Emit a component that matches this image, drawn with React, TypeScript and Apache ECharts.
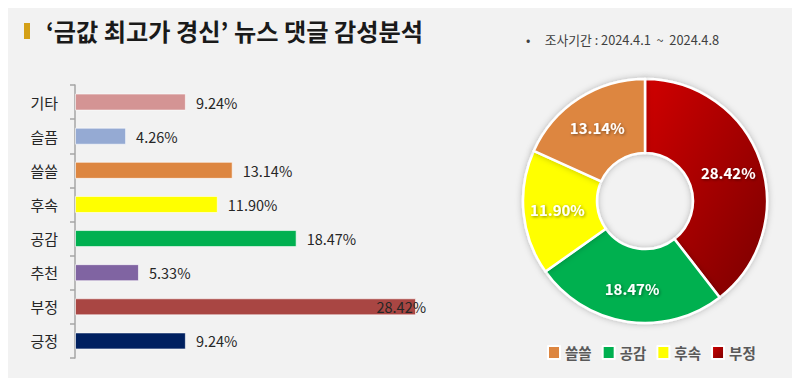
import React, { useEffect, useRef } from "react";
import * as echarts from "echarts";

const barCategories = ["기타", "슬픔", "쓸쓸", "후속", "공감", "추천", "부정", "긍정"];
const barValues = [9.24, 4.26, 13.14, 11.9, 18.47, 5.33, 28.42, 9.24];
const barColors = ["#d49494", "#95aad3", "#dd8640", "#ffff00", "#00b050", "#8064a2", "#a94643", "#002060"];

const pieNames = ["부정", "공감", "후속", "쓸쓸"];
const pieValues = [28.42, 18.47, 11.9, 13.14];
const legendOrder = ["쓸쓸", "공감", "후속", "부정"];

const FONT = "'Noto Sans CJK KR', 'Noto Sans', sans-serif";

export default function App() {
  const ref = useRef<HTMLDivElement>(null);
  useEffect(() => {
    if (!ref.current) return;
    const chart = echarts.init(ref.current, null, { renderer: "svg" });
    const pieColors: any[] = [
      new echarts.graphic.LinearGradient(0, 0, 1, 1, [
        { offset: 0, color: "#d00000" },
        { offset: 1, color: "#7a0000" },
      ]),
      "#00b050",
      "#ffff00",
      "#dd8640",
    ];
    chart.setOption({
      animation: false,
      backgroundColor: "#f2f2f2",
      textStyle: { fontFamily: FONT },
      title: [
        {
          text: "‘금값 최고가 경신’ 뉴스 댓글 감성분석",
          left: 41,
          top: 13,
          textStyle: { fontFamily: FONT, fontSize: 24.2, fontWeight: "bold", color: "#1a1a1a" },
        },
        {
          text: "•     조사기간 : 2024.4.1  ~  2024.4.8",
          left: 521,
          top: 28,
          textStyle: { fontFamily: FONT, fontSize: 12.8, fontWeight: "normal", color: "#404040" },
        },
      ],
      graphic: [
        { type: "rect", shape: { x: 24, y: 23, width: 6, height: 16 }, style: { fill: "#d4a017" } },
      ],
      legend: {
        data: legendOrder,
        left: 547,
        top: 345,
        padding: 0,
        itemWidth: 12,
        itemHeight: 13,
        itemGap: 10,
        icon: "rect",
        textStyle: { fontFamily: FONT, fontSize: 14.5, fontWeight: "bold", color: "#595959" },
      },
      grid: { left: 75, top: 85, width: 360, height: 273 },
      xAxis: { type: "value", min: 0, max: 30, show: false },
      yAxis: {
        type: "category",
        data: barCategories,
        inverse: true,
        axisLine: { lineStyle: { color: "#a6a6a6", width: 1.5 } },
        axisTick: { show: true, length: 5, lineStyle: { color: "#a6a6a6", width: 1.5 } },
        axisLabel: { fontFamily: FONT, fontSize: 15, color: "#262626", margin: 17 },
      },
      series: [
        {
          type: "bar",
          barWidth: "50%",
          data: barValues.map((v, i) => ({
            value: v,
            itemStyle: { color: barColors[i], borderColor: "rgba(255,255,255,0.6)", borderWidth: 1 },
            label:
              v > 25
                ? { position: "insideRight", offset: [20, 0] }
                : undefined,
          })),
          label: {
            show: true,
            position: "right",
            distance: 10,
            formatter: (p: any) => p.value.toFixed(2) + "%",
            fontFamily: FONT,
            fontSize: 14.5,
            color: "#262626",
          },
        },
        {
          type: "pie",
          center: [645, 201],
          radius: [48, 122],
          startAngle: 90,
          clockwise: true,
          data: pieNames.map((n, i) => ({
            name: n,
            value: pieValues[i],
            itemStyle: { color: pieColors[i] },
          })),
          itemStyle: {
            borderColor: "#ffffff",
            borderWidth: 2.5,
            shadowBlur: 6,
            shadowColor: "rgba(0,0,0,0.25)",
          },
          label: {
            show: true,
            position: "inside",
            formatter: (p: any) => p.value.toFixed(2) + "%",
            fontFamily: FONT,
            fontSize: 15,
            fontWeight: "bold",
            color: "#ffffff",
            textShadowColor: "rgba(0,0,0,0.45)",
            textShadowBlur: 3,
            textShadowOffsetX: 1,
            textShadowOffsetY: 1,
          },
          labelLine: { show: false },
        },
      ],
    });
    return () => chart.dispose();
  }, []);
  return <div ref={ref} style={{ width: 800, height: 386, margin: -8 }} />;
}
